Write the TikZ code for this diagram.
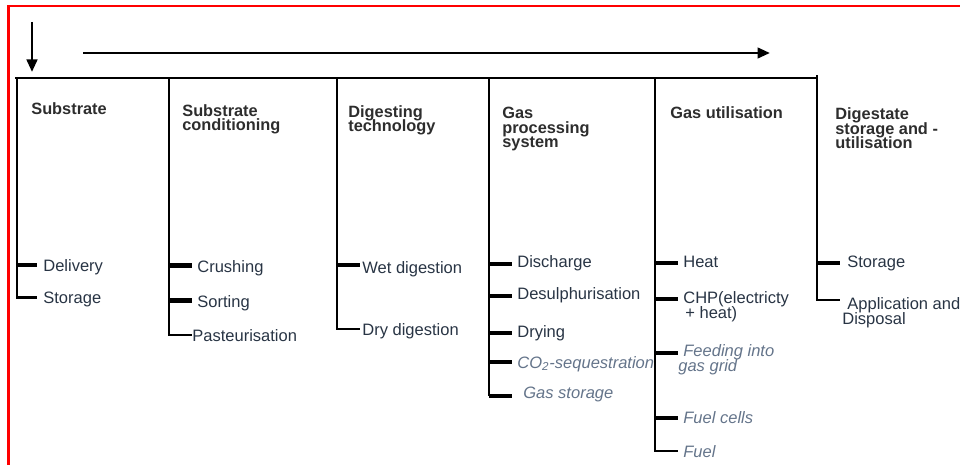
\documentclass[tikz,border=0pt]{standalone}
\usepackage{fontspec}
\setmainfont{Liberation Sans}
\usetikzlibrary{arrows.meta}
\definecolor{itemcol}{RGB}{40,52,68}
\definecolor{headcol}{RGB}{45,45,45}
\definecolor{softcol}{RGB}{100,116,138}
\newcommand\tightlines{\lineskiplimit-10pt\relax}

\begin{document}
\begin{tikzpicture}[
  head/.style={anchor=base west,inner sep=0,align=left,text=headcol,font=\fontsize{9.3}{8.4}\selectfont\bfseries\tightlines},
  item/.style={anchor=base west,inner sep=0,align=left,text=itemcol,font=\fontsize{9.4}{8}\selectfont\tightlines},
  soft/.style={item,text=softcol,font=\fontsize{9.4}{8}\selectfont\itshape\tightlines},
  bar/.style={line width=1.6pt},
  tick/.style={line width=2.4pt},
  flow/.style={line width=1.6pt,-{Triangle[length=0.25cm,width=0.21cm]}}
]
\useasboundingbox (0,0) rectangle (19.2,-9.3);
% frame
\draw[red,line width=1.7pt] (0.17,-9.3) -- (0.17,-0.12) -- (19.2,-0.12);

% arrows on top
\coordinate (in0) at (0.64,-0.44);
\coordinate (in1) at (0.64,-1.44);
\coordinate (fl0) at (1.66,-1.06);
\coordinate (fl1) at (15.4,-1.06);
\draw[flow] (in0) -- (in1);
\draw[flow] (fl0) -- (fl1);

% columns
\coordinate (c1) at (0.34,-1.56);
\coordinate (c2) at (3.38,-1.56);
\coordinate (c3) at (6.74,-1.56);
\coordinate (c4) at (9.78,-1.56);
\coordinate (c5) at (13.10,-1.56);
\coordinate (c6) at (16.34,-1.56);
\draw[bar] (0.30,-1.56) -- (c6);
\draw[bar] (c6) -- ++(0,0.06);

% headers (base = last line)
\node[head] (h1) at (0.62,-2.30) {Substrate};
\node[head] (h2) at (3.64,-2.62) {Substrate\\conditioning};
\node[head] (h3) at (6.96,-2.64) {Digesting\\technology};
\node[head] (h4) at (10.04,-2.96) {Gas\\processing\\system};
\node[head] (h5) at (13.40,-2.38) {Gas utilisation};
\node[head] (h6) at (16.70,-2.98) {Digestate\\storage and -\\utilisation};

% substrate
\coordinate (k11) at (0.74,-5.30);
\coordinate (k12) at (0.74,-5.95);
\draw[bar] (c1) |- (k12);
\draw[tick] (c1 |- k11) -- (k11);
\node[item] (delivery) at (0.86,-5.43) {Delivery};
\node[item] (storage1) at (0.86,-6.06) {Storage};

% conditioning
\coordinate (k21) at (3.84,-5.31);
\coordinate (k22) at (3.84,-6.01);
\coordinate (k23) at (3.84,-6.70);
\draw[bar] (c2) |- (k23);
\draw[tick] (c2 |- k21) -- (k21);
\draw[tick] (c2 |- k22) -- (k22);
\node[item] (crushing) at (3.94,-5.44) {Crushing};
\node[item] (sorting) at (3.94,-6.14) {Sorting};
\node[item] (pasteur) at (3.84,-6.82) {Pasteurisation};

% digesting
\coordinate (k31) at (7.20,-5.30);
\coordinate (k32) at (7.20,-6.58);
\draw[bar] (c3) |- (k32);
\draw[tick] (c3 |- k31) -- (k31);
\node[item] (wet) at (7.24,-5.48) {Wet digestion};
\node[item] (dry) at (7.24,-6.70) {Dry digestion};

% gas processing
\coordinate (k41) at (10.24,-5.28);
\coordinate (k42) at (10.24,-5.92);
\coordinate (k43) at (10.24,-6.66);
\coordinate (k44) at (10.24,-7.24);
\coordinate (k45) at (10.24,-7.92);
\draw[bar] (c4) -- (c4 |- k45);
\foreach \k in {k41,k42,k43,k44,k45}
  \draw[tick] (c4 |- \k) -- (\k);
\node[item] (discharge) at (10.34,-5.34) {Discharge};
\node[item] (desulph) at (10.34,-5.98) {Desulphurisation};
\node[item] (drying) at (10.34,-6.74) {Drying};
\node[soft] (seq) at (10.34,-7.36) {CO\textsubscript{2}-sequestration};
\node[soft] (gasstore) at (10.46,-7.96) {Gas storage};

% gas utilisation
\coordinate (k51) at (13.56,-5.26);
\coordinate (k52) at (13.56,-5.98);
\coordinate (k53) at (13.56,-7.06);
\coordinate (k54) at (13.56,-8.36);
\coordinate (k55) at (13.56,-9.02);
\draw[bar] (c5) |- (k55);
\foreach \k in {k51,k52,k53,k54}
  \draw[tick] (c5 |- \k) -- (\k);
\node[item] (heat) at (13.66,-5.34) {Heat};
\node[item] (chp) at (13.66,-6.36) {CHP(electricty\\\hspace*{0.04cm}+ heat)};
\node[soft] (grid) at (13.56,-7.42) {\hspace*{0.1cm}Feeding into\\gas grid};
\node[soft] (cells) at (13.66,-8.46) {Fuel cells};
\node[soft] (fuel) at (13.66,-9.14) {Fuel};

% digestate
\coordinate (k61) at (16.80,-5.26);
\coordinate (k62) at (16.80,-6.00);
\draw[bar] (c6) |- (k62);
\draw[tick] (c6 |- k61) -- (k61);
\node[item] (storage2) at (16.94,-5.34) {Storage};
\node[item] (appl) at (16.84,-6.48) {\hspace*{0.1cm}Application and\\Disposal};
\end{tikzpicture}
\end{document}
